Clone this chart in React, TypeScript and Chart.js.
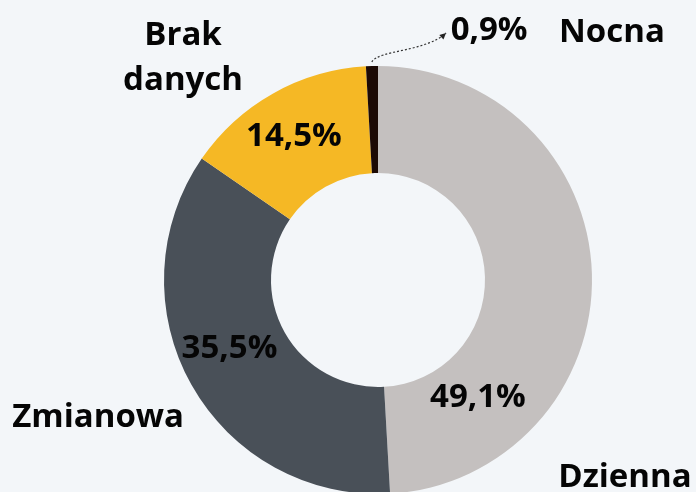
import React, { useEffect, useRef } from "react";
import { Chart, registerables } from "chart.js";

Chart.register(...registerables);

// Data
const categories = ["Dzienna", "Zmianowa", "Brak danych", "Nocna"];
const shares = [49.1, 35.5, 14.5, 0.9];
const valueLabels = ["49,1%", "35,5%", "14,5%", "0,9%"];
const categoryLabelLines = [["Dzienna"], ["Zmianowa"], ["Brak", "danych"], ["Nocna"]];

// Styles
const sliceColors = ["#c4c0bf", "#495058", "#f5b825", "#1c0a05"];
const BG = "#f3f6f9";
const FONT = 'bold 33px "Open Sans", "Noto Sans", sans-serif';

// Label layout: offsets from the doughnut centre in units of the outer radius
const valueLabelOffsets = [
  [0.467, 0.593],
  [-0.694, 0.364],
  [-0.393, -0.626],
  [0.519, -1.121],
];
const categoryLabelOffsets = [
  [1.154, 0.967],
  [-1.308, 0.687],
  [-0.911, -1.098],
  [1.093, -1.112],
];
const LINE_HEIGHT = 45;

export default function App() {
  const ref = useRef<HTMLCanvasElement | null>(null);

  useEffect(() => {
    let chart: Chart | null = null;
    let cancelled = false;

    const labelPlugin = {
      id: "labels",
      afterDraw(c: any) {
        const meta = c.getDatasetMeta(0);
        const arc0 = meta.data[0] as any;
        const cx = arc0.x;
        const cy = arc0.y;
        const R = arc0.outerRadius;
        const ctx = c.ctx as CanvasRenderingContext2D;
        ctx.save();
        ctx.font = FONT;
        ctx.fillStyle = "#050505";
        ctx.textAlign = "center";
        ctx.textBaseline = "alphabetic";
        valueLabels.forEach((t, i) => {
          const [dx, dy] = valueLabelOffsets[i];
          ctx.fillText(t, cx + dx * R, cy + dy * R);
        });
        categoryLabelLines.forEach((lines, i) => {
          const [dx, dy] = categoryLabelOffsets[i];
          lines.forEach((ln, j) => {
            ctx.fillText(ln, cx + dx * R, cy + dy * R + j * LINE_HEIGHT);
          });
        });

        // dotted arrow from the small "Nocna" slice to its value label
        const last = meta.data[meta.data.length - 1] as any;
        const mid = (last.startAngle + last.endAngle) / 2;
        const sx = cx + Math.cos(mid) * (R + 4);
        const sy = cy + Math.sin(mid) * (R + 4);
        const tx = cx + 0.318 * R;
        const ty = cy - 1.154 * R;
        const c1x = cx + 0.0 * R, c1y = cy - 1.075 * R;
        const c2x = cx + 0.22 * R, c2y = cy - 1.065 * R;
        ctx.strokeStyle = "#333";
        ctx.lineWidth = 1.2;
        ctx.setLineDash([2, 2]);
        ctx.beginPath();
        ctx.moveTo(sx, sy);
        ctx.bezierCurveTo(c1x, c1y, c2x, c2y, tx, ty);
        ctx.stroke();
        ctx.setLineDash([]);
        const ang = Math.atan2(ty - c2y, tx - c2x);
        const ah = 7;
        ctx.fillStyle = "#222";
        ctx.beginPath();
        ctx.moveTo(tx, ty);
        ctx.lineTo(tx - ah * Math.cos(ang - 0.45), ty - ah * Math.sin(ang - 0.45));
        ctx.lineTo(tx - ah * Math.cos(ang + 0.45), ty - ah * Math.sin(ang + 0.45));
        ctx.closePath();
        ctx.fill();
        ctx.restore();
      },
    };

    const make = () => {
      if (cancelled || !ref.current) return;
      chart = new Chart(ref.current, {
        type: "doughnut",
        data: {
          labels: categories,
          datasets: [
            {
              data: shares,
              backgroundColor: sliceColors,
              borderWidth: 0,
            },
          ],
        },
        options: {
          responsive: false,
          animation: false,
          cutout: "50%",
          layout: { padding: { left: 164, right: 104, top: 66, bottom: 46 } },
          plugins: {
            legend: { display: false },
            tooltip: { enabled: false },
            title: { display: false },
          },
        },
        plugins: [labelPlugin],
      });
    };

    const fonts = (document as any).fonts;
    if (fonts && fonts.load) {
      fonts.load(FONT).then(make, make);
    } else {
      make();
    }

    return () => {
      cancelled = true;
      if (chart) chart.destroy();
    };
  }, []);

  return (
    <div
      style={{
        position: "fixed",
        left: 0,
        top: 0,
        width: 696,
        height: 492,
        overflow: "hidden",
        background: BG,
      }}
    >
      <canvas ref={ref} width={696} height={540} style={{ display: "block" }} />
    </div>
  );
}
